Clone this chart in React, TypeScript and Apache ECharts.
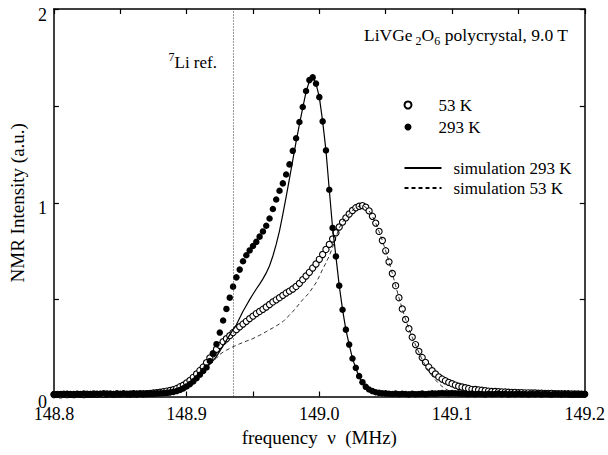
import React, { useEffect, useRef } from 'react';
import * as echarts from 'echarts';

// frequency grid of the measured spectra (MHz)
const FREQ_MHZ = [
  148.8, 148.8025, 148.805, 148.8075, 148.81, 148.8125, 148.815, 148.8175,
  148.82, 148.8225, 148.825, 148.8275, 148.83, 148.8325, 148.835, 148.8375,
  148.84, 148.8425, 148.845, 148.8475, 148.85, 148.8525, 148.855, 148.8575,
  148.86, 148.8625, 148.865, 148.8675, 148.87, 148.8725, 148.875, 148.8775,
  148.88, 148.8825, 148.885, 148.8875, 148.89, 148.8925, 148.895, 148.8975,
  148.9, 148.9025, 148.905, 148.9075, 148.91, 148.9125, 148.915, 148.9175,
  148.92, 148.9225, 148.925, 148.9275, 148.93, 148.9325, 148.935, 148.9375,
  148.94, 148.9425, 148.945, 148.9475, 148.95, 148.9525, 148.955, 148.9575,
  148.96, 148.9625, 148.965, 148.9675, 148.97, 148.9725, 148.975, 148.9775,
  148.98, 148.9825, 148.985, 148.9875, 148.99, 148.9925, 148.995, 148.9975,
  149.0, 149.0025, 149.005, 149.0075, 149.01, 149.0125, 149.015, 149.0175,
  149.02, 149.0225, 149.025, 149.0275, 149.03, 149.0325, 149.035, 149.0375,
  149.04, 149.0425, 149.045, 149.0475, 149.05, 149.0525, 149.055, 149.0575,
  149.06, 149.0625, 149.065, 149.0675, 149.07, 149.0725, 149.075, 149.0775,
  149.08, 149.0825, 149.085, 149.0875, 149.09, 149.0925, 149.095, 149.0975,
  149.1, 149.1025, 149.105, 149.1075, 149.11, 149.1125, 149.115, 149.1175,
  149.12, 149.1225, 149.125, 149.1275, 149.13, 149.1325, 149.135, 149.1375,
  149.14, 149.1425, 149.145, 149.1475, 149.15, 149.1525, 149.155, 149.1575,
  149.16, 149.1625, 149.165, 149.1675, 149.17, 149.1725, 149.175, 149.1775,
  149.18, 149.1825, 149.185, 149.1875, 149.19, 149.1925, 149.195, 149.1975,
  149.2,
];

// measured 53 K spectrum (open circles)
const INTENSITY_53K = [
  0.010, 0.011, 0.009, 0.012, 0.010, 0.011, 0.010, 0.012,
  0.011, 0.010, 0.012, 0.011, 0.013, 0.011, 0.012, 0.011,
  0.013, 0.012, 0.011, 0.013, 0.012, 0.014, 0.012, 0.013,
  0.014, 0.013, 0.015, 0.014, 0.015, 0.016, 0.018, 0.020,
  0.022, 0.025, 0.028, 0.031, 0.035, 0.041, 0.050, 0.058,
  0.070, 0.083, 0.099, 0.116, 0.134, 0.152, 0.175, 0.199,
  0.221, 0.244, 0.264, 0.283, 0.298, 0.314, 0.330, 0.345,
  0.360, 0.374, 0.388, 0.402, 0.415, 0.428, 0.439, 0.450,
  0.462, 0.475, 0.488, 0.499, 0.510, 0.522, 0.534, 0.544,
  0.555, 0.568, 0.584, 0.603, 0.622, 0.641, 0.663, 0.684,
  0.708, 0.733, 0.759, 0.785, 0.813, 0.845, 0.875, 0.900,
  0.922, 0.942, 0.960, 0.974, 0.982, 0.985, 0.977, 0.958,
  0.930, 0.895, 0.852, 0.805, 0.752, 0.695, 0.635, 0.572,
  0.510, 0.452, 0.398, 0.350, 0.306, 0.268, 0.233, 0.201,
  0.176, 0.152, 0.133, 0.116, 0.101, 0.090, 0.081, 0.073,
  0.066, 0.059, 0.053, 0.049, 0.045, 0.041, 0.037, 0.036,
  0.034, 0.032, 0.030, 0.028, 0.026, 0.026, 0.025, 0.024,
  0.023, 0.022, 0.021, 0.021, 0.020, 0.020, 0.019, 0.019,
  0.018, 0.018, 0.017, 0.017, 0.016, 0.016, 0.016, 0.015,
  0.015, 0.014, 0.014, 0.014, 0.013, 0.013, 0.013, 0.012,
  0.012,
];

// measured 293 K spectrum (filled circles)
const INTENSITY_293K = [
  0.012, 0.010, 0.013, 0.011, 0.014, 0.012, 0.010, 0.013,
  0.012, 0.015, 0.011, 0.013, 0.012, 0.014, 0.013, 0.016,
  0.012, 0.014, 0.013, 0.015, 0.012, 0.014, 0.013, 0.012,
  0.015, 0.013, 0.014, 0.012, 0.015, 0.014, 0.015, 0.016,
  0.017, 0.018, 0.019, 0.021, 0.024, 0.028, 0.034, 0.042,
  0.052, 0.064, 0.078, 0.094, 0.112, 0.132, 0.150, 0.183,
  0.222, 0.270, 0.330, 0.392, 0.452, 0.510, 0.567, 0.615,
  0.655, 0.698, 0.729, 0.754, 0.777, 0.798, 0.825, 0.852,
  0.881, 0.919, 0.968, 1.017, 1.062, 1.100, 1.146, 1.198,
  1.268, 1.333, 1.417, 1.494, 1.577, 1.633, 1.647, 1.615,
  1.545, 1.420, 1.270, 1.067, 0.870, 0.723, 0.572, 0.448,
  0.345, 0.268, 0.196, 0.148, 0.105, 0.074, 0.050, 0.036,
  0.028, 0.022, 0.019, 0.017, 0.016, 0.014, 0.013, 0.015,
  0.012, 0.014, 0.013, 0.011, 0.014, 0.012, 0.013, 0.015,
  0.012, 0.014, 0.016, 0.015, 0.017, 0.018, 0.017, 0.016,
  0.018, 0.017, 0.016, 0.015, 0.014, 0.013, 0.015, 0.012,
  0.014, 0.013, 0.011, 0.014, 0.012, 0.013, 0.015, 0.012,
  0.014, 0.011, 0.013, 0.012, 0.014, 0.012, 0.013, 0.011,
  0.013, 0.012, 0.014, 0.011, 0.013, 0.012, 0.010, 0.013,
  0.012, 0.011, 0.013, 0.012, 0.010, 0.012, 0.011, 0.013,
  0.012,
];

// simulated 293 K line shape (solid line)
const SIM_293K = [
  0.005, 0.005, 0.005, 0.005, 0.005, 0.005, 0.005, 0.005,
  0.005, 0.005, 0.005, 0.005, 0.005, 0.005, 0.005, 0.005,
  0.005, 0.005, 0.005, 0.005, 0.005, 0.005, 0.005, 0.005,
  0.005, 0.005, 0.005, 0.005, 0.005, 0.005, 0.005, 0.005,
  0.005, 0.005, 0.007, 0.009, 0.013, 0.019, 0.027, 0.037,
  0.050, 0.065, 0.082, 0.100, 0.118, 0.134, 0.151, 0.167,
  0.185, 0.207, 0.234, 0.262, 0.290, 0.318, 0.345, 0.370,
  0.405, 0.440, 0.470, 0.500, 0.528, 0.555, 0.580, 0.607,
  0.638, 0.675, 0.725, 0.785, 0.855, 0.940, 1.030, 1.125,
  1.220, 1.315, 1.405, 1.490, 1.572, 1.628, 1.647, 1.615,
  1.545, 1.420, 1.270, 1.067, 0.870, 0.723, 0.572, 0.448,
  0.345, 0.268, 0.196, 0.145, 0.102, 0.070, 0.046, 0.030,
  0.020, 0.013, 0.009, 0.007, 0.005, 0.005, 0.005, 0.005,
  0.005, 0.005, 0.005, 0.005, 0.005, 0.005, 0.005, 0.005,
  0.005, 0.005, 0.005, 0.005, 0.005, 0.005, 0.005, 0.005,
  0.005, 0.005, 0.005, 0.005, 0.005, 0.005, 0.005, 0.005,
  0.005, 0.005, 0.005, 0.005, 0.005, 0.005, 0.005, 0.005,
  0.005, 0.005, 0.005, 0.005, 0.005, 0.005, 0.005, 0.005,
  0.005, 0.005, 0.005, 0.005, 0.005, 0.005, 0.005, 0.005,
  0.005, 0.005, 0.005, 0.005, 0.005, 0.005, 0.005, 0.005,
  0.005,
];

// simulated 53 K line shape (dashed line)
const SIM_53K = [
  0.005, 0.005, 0.005, 0.005, 0.005, 0.005, 0.005, 0.005,
  0.005, 0.005, 0.005, 0.005, 0.005, 0.005, 0.005, 0.005,
  0.005, 0.005, 0.005, 0.005, 0.005, 0.005, 0.005, 0.005,
  0.005, 0.005, 0.005, 0.005, 0.005, 0.005, 0.005, 0.005,
  0.005, 0.005, 0.007, 0.009, 0.012, 0.017, 0.023, 0.031,
  0.041, 0.055, 0.072, 0.092, 0.115, 0.133, 0.150, 0.165,
  0.182, 0.198, 0.217, 0.229, 0.239, 0.248, 0.257, 0.264,
  0.272, 0.279, 0.286, 0.292, 0.299, 0.308, 0.316, 0.325,
  0.335, 0.345, 0.354, 0.364, 0.375, 0.386, 0.403, 0.420,
  0.438, 0.458, 0.479, 0.500, 0.518, 0.536, 0.562, 0.587,
  0.620, 0.657, 0.690, 0.726, 0.770, 0.822, 0.870, 0.900,
  0.922, 0.942, 0.960, 0.974, 0.982, 0.985, 0.977, 0.958,
  0.930, 0.895, 0.852, 0.805, 0.752, 0.695, 0.635, 0.572,
  0.510, 0.452, 0.398, 0.350, 0.306, 0.266, 0.228, 0.190,
  0.160, 0.130, 0.106, 0.085, 0.067, 0.052, 0.040, 0.030,
  0.021, 0.015, 0.010, 0.007, 0.005, 0.005, 0.005, 0.005,
  0.005, 0.005, 0.005, 0.005, 0.005, 0.005, 0.005, 0.005,
  0.005, 0.005, 0.005, 0.005, 0.005, 0.005, 0.005, 0.005,
  0.005, 0.005, 0.005, 0.005, 0.005, 0.005, 0.005, 0.005,
  0.005, 0.005, 0.005, 0.005, 0.005, 0.005, 0.005, 0.005,
  0.005,
];

const LI_REF_MHZ = 148.935;
const X_TICK_LABELS = ['148.8', '148.9', '149.0', '149.1', '149.2'];
const Y_TICK_LABELS = ['0', '1', '2'];
const SERIES_NAMES = ['53 K', '293 K', 'simulation 293 K', 'simulation 53 K'];

const FONT = "'Liberation Serif', 'Times New Roman', serif";

export default function App() {
  const ref = useRef<HTMLDivElement>(null);

  useEffect(() => {
    const chart = echarts.init(ref.current!, null, { renderer: 'svg' });
    const pairs = (ys: number[]) => FREQ_MHZ.map((f, i) => [f, ys[i]]);

    const xLabel = (v: number) => {
      const s = v.toFixed(1);
      return Math.abs(v * 10 - Math.round(v * 10)) < 1e-6 && X_TICK_LABELS.includes(s) ? s : '';
    };
    const yLabel = (v: number) => {
      const s = String(Math.round(v));
      return Math.abs(v - Math.round(v)) < 1e-6 && Y_TICK_LABELS.includes(s) ? s : '';
    };

    const axisLine = { show: true, onZero: false, lineStyle: { color: '#000', width: 1.5 } };
    const axisTick = { show: true, inside: true, length: 5, lineStyle: { color: '#000', width: 1.2 } };

    const option: any = {
      animation: false,
      backgroundColor: '#fff',
      textStyle: { fontFamily: FONT, color: '#000' },
      grid: { left: 49, right: 23, top: 9, bottom: 58.5, containLabel: false },
      xAxis: [
        {
          type: 'value',
          min: 148.8,
          max: 149.2,
          interval: 0.05,
          position: 'bottom',
          axisLine,
          axisTick,
          splitLine: { show: false },
          axisLabel: { formatter: xLabel, fontSize: 18, lineHeight: 14, color: '#000', fontFamily: FONT, margin: 10 },
          name: 'frequency\u00A0\u00A0\u03BD\u00A0\u00A0(MHz)',
          nameLocation: 'middle',
          nameGap: 31,
          nameTextStyle: { fontSize: 19, color: '#000', fontFamily: FONT },
        },
        {
          type: 'value',
          min: 148.8,
          max: 149.2,
          interval: 0.05,
          position: 'top',
          axisLine,
          axisTick,
          splitLine: { show: false },
          axisLabel: { show: false },
        },
      ],
      yAxis: [
        {
          type: 'value',
          min: 0,
          max: 2,
          interval: 0.5,
          position: 'left',
          axisLine,
          axisTick,
          splitLine: { show: false },
          axisLabel: {
            formatter: yLabel,
            fontSize: 18,
            lineHeight: 11,
            verticalAlign: 'top',
            color: '#000',
            fontFamily: FONT,
            margin: 7,
          },
          name: 'NMR Intensity (a.u.)',
          nameLocation: 'middle',
          nameGap: 25,
          nameTextStyle: { fontSize: 19, color: '#000', fontFamily: FONT },
        },
        {
          type: 'value',
          min: 0,
          max: 2,
          interval: 0.5,
          position: 'right',
          axisLine,
          axisTick,
          splitLine: { show: false },
          axisLabel: { show: false },
        },
      ],
      legend: [
        {
          data: [SERIES_NAMES[0], SERIES_NAMES[1]],
          orient: 'vertical',
          left: 398.5,
          top: 90,
          itemWidth: 37,
          itemHeight: 7,
          itemGap: 2,
          selectedMode: false,
          textStyle: { fontSize: 17, lineHeight: 20, color: '#000', fontFamily: FONT, padding: [0, 0, 0, 7] },
        },
        {
          data: [SERIES_NAMES[2], SERIES_NAMES[3]],
          orient: 'vertical',
          left: 398.5,
          top: 153,
          itemWidth: 37,
          itemHeight: 1,
          itemGap: 0,
          selectedMode: false,
          lineStyle: { width: 2 },
          textStyle: { fontSize: 17, lineHeight: 20, color: '#000', fontFamily: FONT, padding: [0, 0, 0, 7] },
        },
      ],
      series: [
        {
          name: SERIES_NAMES[0],
          type: 'scatter',
          data: pairs(INTENSITY_53K),
          symbol: 'circle',
          symbolSize: 6.2,
          itemStyle: { color: '#fff', borderColor: '#000', borderWidth: 1.1, opacity: 1 },
          z: 2,
        },
        {
          name: SERIES_NAMES[1],
          type: 'scatter',
          data: pairs(INTENSITY_293K),
          symbol: 'circle',
          symbolSize: 6.5,
          itemStyle: { color: '#000', borderWidth: 0, opacity: 1 },
          z: 3,
        },
        {
          name: SERIES_NAMES[2],
          type: 'line',
          data: pairs(SIM_293K),
          symbol: 'none',
          smooth: false,
          lineStyle: { color: '#000', width: 1.2, type: 'solid' },
          itemStyle: { color: '#000' },
          z: 4,
        },
        {
          name: SERIES_NAMES[3],
          type: 'line',
          data: pairs(SIM_53K),
          symbol: 'none',
          smooth: false,
          lineStyle: { color: '#000', width: 0.8, type: [4, 3] },
          itemStyle: { color: '#000' },
          z: 4,
          markLine: {
            silent: true,
            precision: 4,
            symbol: ['none', 'none'],
            label: { show: false },
            lineStyle: { color: '#333', width: 1, type: [1, 2] },
            data: [{ xAxis: LI_REF_MHZ }],
          },
        },
      ],
      graphic: [
        {
          type: 'text',
          x: 568,
          y: 35,
          style: {
            text: '{a|LiVGe}{s|2}{a|O}{t|6}{a| polycrystal, 9.0 T}',
            align: 'right',
            verticalAlign: 'middle',
            fill: '#000',
            rich: {
              a: { fontFamily: FONT, fontSize: 17.5, lineHeight: 24, fill: '#000', verticalAlign: 'middle' },
              s: { fontFamily: FONT, fontSize: 12, lineHeight: 10, fill: '#000', verticalAlign: 'bottom', padding: [0, 0, 0, 3] },
              t: { fontFamily: FONT, fontSize: 12, lineHeight: 10, fill: '#000', verticalAlign: 'bottom' },
            },
          },
        },
        {
          type: 'text',
          x: 217,
          y: 62,
          style: {
            text: '{p|7}{a|Li ref.}',
            align: 'right',
            verticalAlign: 'middle',
            fill: '#000',
            rich: {
              a: { fontFamily: FONT, fontSize: 17, lineHeight: 22, fill: '#000', verticalAlign: 'middle' },
              p: { fontFamily: FONT, fontSize: 12, lineHeight: 12, fill: '#000', verticalAlign: 'top' },
            },
          },
        },
      ],
    };

    chart.setOption(option);
    return () => chart.dispose();
  }, []);

  return (
    <div
      ref={ref}
      style={{ position: 'fixed', left: 0, top: 0, width: 608, height: 455, background: '#fff' }}
    />
  );
}
